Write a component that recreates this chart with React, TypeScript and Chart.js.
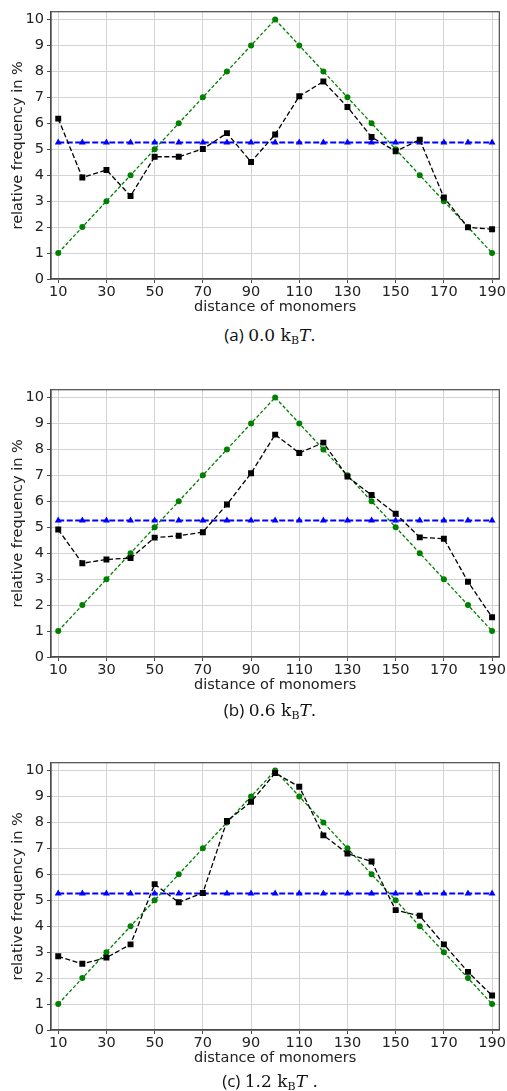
import React, { useEffect, useRef } from "react";
import { Chart, registerables } from "chart.js";

Chart.register(...registerables);

// ---------- data ----------
const distances = [10, 20, 30, 40, 50, 60, 70, 80, 90, 100, 110, 120, 130, 140, 150, 160, 170, 180, 190];
const xTickValues = [10, 30, 50, 70, 90, 110, 130, 150, 170, 190];
const yTickValues = [0, 1, 2, 3, 4, 5, 6, 7, 8, 9, 10];

const uniformPct = [5.26, 5.26, 5.26, 5.26, 5.26, 5.26, 5.26, 5.26, 5.26, 5.26, 5.26, 5.26, 5.26, 5.26, 5.26, 5.26, 5.26, 5.26, 5.26];
const triangularPct = [1, 2, 3, 4, 5, 6, 7, 8, 9, 10, 9, 8, 7, 6, 5, 4, 3, 2, 1];

const measuredA = [6.18, 3.91, 4.2, 3.2, 4.71, 4.71, 5.01, 5.62, 4.51, 5.57, 7.04, 7.61, 6.63, 5.47, 4.92, 5.37, 3.14, 1.99, 1.92];
const measuredB = [4.91, 3.61, 3.76, 3.81, 4.6, 4.67, 4.81, 5.88, 7.08, 8.57, 7.86, 8.26, 6.95, 6.24, 5.52, 4.61, 4.56, 2.9, 1.53];
const measuredC = [2.84, 2.55, 2.79, 3.3, 5.62, 4.92, 5.28, 8.05, 8.79, 9.9, 9.37, 7.5, 6.8, 6.49, 4.62, 4.4, 3.3, 2.24, 1.33];

const captionLetters = ["(a)", "(b)", "(c)"];
const captionEnergies = ["0.0", "0.6", "1.2"];
const captionEndings = [".", ".", " ."];

const xTitle = "distance of monomers";
const yTitle = "relative frequency in %";

// ---------- chart ----------
const framePlugin = {
  id: "frame",
  afterDraw(chart: any) {
    const { ctx, chartArea } = chart;
    const { left, top, right, bottom } = chartArea;
    ctx.save();
    ctx.strokeStyle = "#4a4a4a";
    ctx.lineWidth = 1.2;
    ctx.strokeRect(left, top, right - left, bottom - top);
    ctx.restore();
  },
};

const toPoints = (vals: number[]) => distances.map((d, i) => ({ x: d, y: vals[i] }));

const TEXT = "#222";
const FS = 14.5;

function Panel({ measured, top, captionTop, idx }: { measured: number[]; top: number; captionTop: number; idx: number }) {
  const ref = useRef<HTMLCanvasElement | null>(null);
  useEffect(() => {
    if (!ref.current) return;
    const chart = new Chart(ref.current, {
      type: "line",
      data: {
        datasets: [
          {
            data: toPoints(measured),
            borderColor: "#000",
            backgroundColor: "#000",
            borderWidth: 1.3,
            borderDash: [5, 2.5],
            pointStyle: "rect",
            pointRadius: 4.2,
            pointBorderWidth: 0,
            order: 0,
          },
          {
            data: toPoints(triangularPct),
            borderColor: "#008000",
            backgroundColor: "#008000",
            borderWidth: 1.3,
            borderDash: [3.5, 2],
            pointStyle: "circle",
            pointRadius: 3,
            pointBorderWidth: 0,
            order: 1,
          },
          {
            data: toPoints(uniformPct),
            borderColor: "#0000ff",
            backgroundColor: "#0000ff",
            borderWidth: 1.8,
            borderDash: [6, 2.5],
            pointStyle: "triangle",
            pointRadius: 4,
            pointBorderWidth: 0,
            order: 2,
          },
        ],
      },
      options: {
        animation: false,
        responsive: true,
        maintainAspectRatio: false,
        layout: { padding: { top: 10, right: 5, left: 0, bottom: 0 } },
        plugins: { legend: { display: false }, tooltip: { enabled: false } },
        elements: { line: { tension: 0 } },
        scales: {
          x: {
            type: "linear",
            min: 7,
            max: 193,
            afterBuildTicks: (scale: any) => {
              scale.ticks = xTickValues.map((v) => ({ value: v }));
            },
            afterFit: (scale: any) => {
              scale.height = 43;
            },
            grid: { color: "#d3d3d3", lineWidth: 1, drawTicks: true, tickLength: 4, tickColor: "#4a4a4a" },
            border: { display: true, color: "#4a4a4a", width: 1.2 },
            ticks: { color: TEXT, font: { size: FS }, padding: 1, maxRotation: 0, autoSkip: false },
            title: { display: true, text: xTitle, color: TEXT, font: { size: FS }, padding: { top: 0, bottom: 6 } },
          },
          y: {
            type: "linear",
            min: 0,
            max: 10.3,
            afterBuildTicks: (scale: any) => {
              scale.ticks = yTickValues.map((v) => ({ value: v }));
            },
            afterFit: (scale: any) => {
              scale.width = 51;
            },
            grid: { color: "#d3d3d3", lineWidth: 1, drawTicks: true, tickLength: 4, tickColor: "#4a4a4a" },
            border: { display: true, color: "#4a4a4a", width: 1.2 },
            ticks: { color: TEXT, font: { size: FS }, padding: 3 },
            title: { display: true, text: yTitle, color: TEXT, font: { size: FS }, padding: { top: 10, bottom: 0 } },
          },
        },
      },
      plugins: [framePlugin],
    } as any);
    return () => chart.destroy();
  }, [measured]);

  return (
    <>
      <div style={{ position: "absolute", left: 0, top, width: 507, height: 322 }}>
        <canvas ref={ref} />
      </div>
      <div
        style={{
          position: "absolute",
          left: 33,
          width: 474,
          top: captionTop - 12,
          height: 24,
          lineHeight: "24px",
          textAlign: "center",
          fontSize: 17,
          color: "#111",
          whiteSpace: "nowrap",
        }}
      >
        <span style={{ fontFamily: "'Open Sans', 'Noto Sans', sans-serif", fontSize: 17 }}>{captionLetters[idx]} </span>
        <span style={{ fontFamily: "'DejaVu Serif', 'Liberation Serif', serif", fontSize: 17 }}>
          {captionEnergies[idx]} k
          <sub style={{ fontSize: 11, verticalAlign: "-3px" }}>B</sub>
          <i>T</i>
          {captionEndings[idx]}
        </span>
      </div>
    </>
  );
}

export default function App() {
  Chart.defaults.font.family = "'DejaVu Sans', sans-serif";
  return (
    <div style={{ position: "absolute", left: 0, top: 0, width: 507, height: 1091, background: "#fff" }}>
      <Panel measured={measuredA} top={0} captionTop={335} idx={0} />
      <Panel measured={measuredB} top={378.3} captionTop={710} idx={1} />
      <Panel measured={measuredC} top={751.2} captionTop={1081} idx={2} />
    </div>
  );
}
